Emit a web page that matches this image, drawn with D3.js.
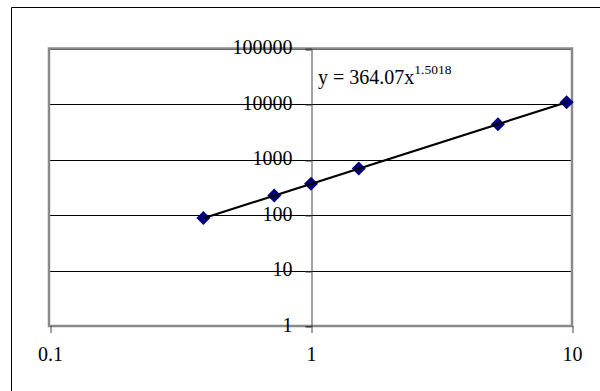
<!DOCTYPE html>
<html>
<head>
<meta charset="utf-8">
<script src="https://cdn.jsdelivr.net/npm/d3@7"></script>
<style>
  html, body { margin: 0; padding: 0; background: #fff; overflow: hidden; }
  svg { display: block; }
  text { font-family: "Liberation Serif", "Times New Roman", serif; fill: #000; }
</style>
</head>
<body>
<svg id="chart" width="600" height="391"></svg>
<script>
// Semi-major axis (AU) and orbital period (days) of the six classical planets
const planets = ["Mercury", "Venus", "Earth", "Mars", "Jupiter", "Saturn"];
const axisAU = [0.387, 0.723, 1.0, 1.524, 5.203, 9.537];
const periodDays = [87.97, 224.7, 365.25, 686.98, 4332.6, 10759];

// Power-law trendline y = a * x^b
const fitA = 364.07;
const fitB = 1.5018;

// Axis tick values
const xTicks = [0.1, 1, 10];
const yTicks = [1, 10, 100, 1000, 10000, 100000];

const svg = d3.select("#chart");

const plot = { left: 49, right: 572, top: 48.5, bottom: 326 };

const x = d3.scaleLog().domain([0.1, 10]).range([plot.left + 1, plot.right]);
const y = d3.scaleLog().domain([1, 100000]).range([plot.bottom, plot.top]);

// Chart area frame: only its left and top edges fall inside the view
svg.append("path")
  .attr("d", "M11.5,391V7.5H600")
  .attr("fill", "none")
  .attr("stroke", "#000").attr("stroke-width", 1);

// Horizontal gridlines
svg.append("g")
  .selectAll("line")
  .data(yTicks)
  .join("line")
  .attr("x1", plot.left).attr("x2", plot.right)
  .attr("y1", d => Math.round(y(d)) + 0.5)
  .attr("y2", d => Math.round(y(d)) + 0.5)
  .attr("stroke", "#000").attr("stroke-width", 1);

// Plot area border
svg.append("rect")
  .attr("x", plot.left).attr("y", plot.top)
  .attr("width", plot.right - plot.left)
  .attr("height", plot.bottom - plot.top)
  .attr("fill", "none")
  .attr("stroke", "#8a8a8a").attr("stroke-width", 2.5);

// Y axis, crossing the x axis at 1
const yAxis = d3.axisLeft(y)
  .tickValues(yTicks)
  .tickFormat(d3.format("d"))
  .tickSize(6)
  .tickPadding(13);

const xCross = Math.round(x(1)) + 0.5;
const yAxisG = svg.append("g")
  .attr("transform", `translate(${xCross},0)`)
  .call(yAxis);
yAxisG.select(".domain").attr("stroke", "#444").attr("stroke-width", 1);
yAxisG.selectAll(".tick line").attr("stroke", "#333")
  .attr("transform", d => `translate(0,${Math.round(y(d)) + 0.5 - y(d)})`);
yAxisG.selectAll(".tick text")
  .attr("font-size", 20)
  .attr("font-family", "Liberation Serif, Times New Roman, serif")
  .attr("dy", 5)
  .attr("fill", "#000");

// X axis along the bottom of the plot
const xAxis = d3.axisBottom(x)
  .tickValues(xTicks)
  .tickFormat(d => String(d))
  .tickSize(7)
  .tickSizeOuter(0)
  .tickPadding(14);

const xAxisG = svg.append("g")
  .attr("transform", `translate(0,${plot.bottom})`)
  .call(xAxis);
xAxisG.select(".domain").remove();
xAxisG.selectAll(".tick line").attr("stroke", "#444")
  .attr("transform", d => `translate(${Math.round(x(d)) + 0.5 - x(d)},0)`);
xAxisG.selectAll(".tick text")
  .attr("font-size", 20)
  .attr("font-family", "Liberation Serif, Times New Roman, serif")
  .attr("dy", "0.71em")
  .attr("fill", "#000");

// Data markers (diamonds)
const pts = axisAU.map((a, i) => ({ name: planets[i], x: a, y: periodDays[i] }));
svg.append("g")
  .selectAll("path")
  .data(pts)
  .join("path")
  .attr("transform", d => `translate(${x(d.x)},${y(d.y)})`)
  .attr("d", d3.symbol(d3.symbolDiamond2, 125))
  .attr("fill", "#000080");

// Power trendline over the data range
const xExtent = d3.extent(axisAU);
const trend = d3.line()
  .x(d => x(d))
  .y(d => y(fitA * Math.pow(d, fitB)));
svg.append("path")
  .datum(xExtent)
  .attr("d", trend)
  .attr("fill", "none")
  .attr("stroke", "#000")
  .attr("stroke-width", 2.2);

// Trendline equation
const eq = svg.append("text")
  .attr("x", 318)
  .attr("y", 83.5)
  .attr("font-size", 20);
eq.append("tspan").text(`y = ${fitA}x`);
eq.append("tspan")
  .attr("font-size", 13.5)
  .attr("dy", -9.5)
  .text(fitB);
</script>
</body>
</html>
